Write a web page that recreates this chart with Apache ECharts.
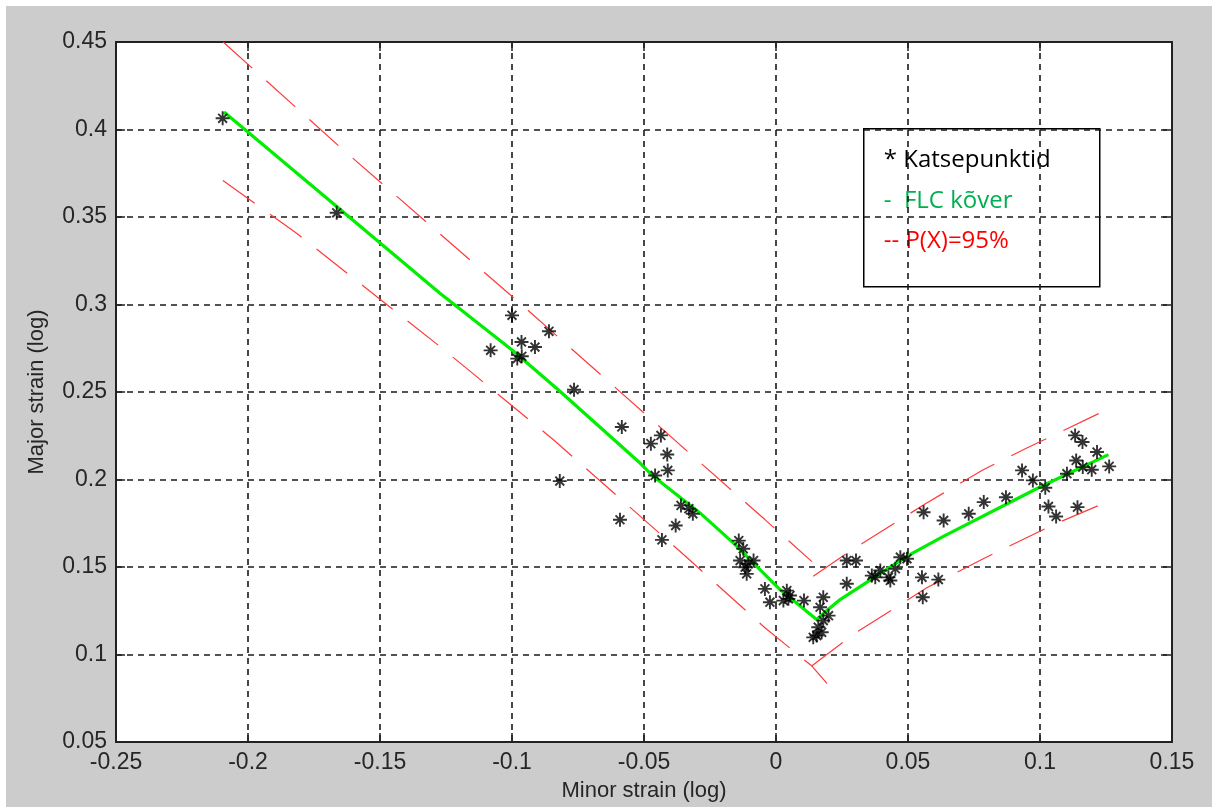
<!DOCTYPE html>
<html>
<head>
<meta charset="utf-8">
<script src="https://cdn.jsdelivr.net/npm/echarts/dist/echarts.min.js"></script>
<style>
html,body{margin:0;padding:0;background:#fff;}
#chart{width:1212px;height:807px;}
</style>
</head>
<body>
<div id="chart"></div>
<script>
// Tick labels
const xTicks = [-0.25, -0.2, -0.15, -0.1, -0.05, 0, 0.05, 0.1, 0.15];
const yTicks = [0.05, 0.1, 0.15, 0.2, 0.25, 0.3, 0.35, 0.4, 0.45];

// Test points (Katsepunktid)
const testPoints = [
  [-0.2096, 0.4064], [-0.1664, 0.3524], [-0.1081, 0.2738], [-0.1000, 0.2938],
  [-0.0964, 0.2786], [-0.0980, 0.2691], [-0.0963, 0.2704], [-0.0913, 0.2757],
  [-0.0860, 0.2847], [-0.0765, 0.2513], [-0.0819, 0.1991], [-0.0584, 0.2300],
  [-0.0591, 0.1770], [-0.0474, 0.2205], [-0.0436, 0.2252], [-0.0412, 0.2143],
  [-0.0410, 0.2052], [-0.0458, 0.2023], [-0.0432, 0.1655], [-0.0360, 0.1852],
  [-0.0330, 0.1833], [-0.0315, 0.1804], [-0.0380, 0.1737], [-0.0141, 0.1651],
  [-0.0124, 0.1604], [-0.0136, 0.1537], [-0.0105, 0.1518], [-0.0117, 0.1499],
  [-0.0111, 0.1461], [-0.0085, 0.1537], [-0.0042, 0.1375], [-0.0023, 0.1299],
  [0.0041, 0.1365], [0.0047, 0.1318], [0.0028, 0.1308], [0.0053, 0.1337],
  [0.0106, 0.1308], [0.0179, 0.1327], [0.0167, 0.1270], [0.0199, 0.1222],
  [0.0179, 0.1194], [0.0160, 0.1156], [0.0173, 0.1127], [0.0141, 0.1098],
  [0.0154, 0.1108],
  [0.0268, 0.1537], [0.0303, 0.1537], [0.0268, 0.1404], [0.0363, 0.1451],
  [0.0376, 0.1441], [0.0426, 0.1441], [0.0433, 0.1423], [0.0452, 0.1490],
  [0.0395, 0.1480], [0.0471, 0.1556], [0.0496, 0.1547], [0.0559, 0.1813],
  [0.0553, 0.1441], [0.0556, 0.1327], [0.0615, 0.1428], [0.0635, 0.1766],
  [0.0730, 0.1804], [0.0787, 0.1871], [0.0871, 0.1899], [0.0932, 0.2052],
  [0.0973, 0.1995], [0.1020, 0.1953], [0.1032, 0.1846], [0.1061, 0.1789],
  [0.1102, 0.2033], [0.1137, 0.2109], [0.1142, 0.1842], [0.1133, 0.2252],
  [0.1161, 0.2214], [0.1216, 0.2157], [0.1162, 0.2071], [0.1196, 0.2056],
  [0.1262, 0.2075]
];

// FLC curve (FLC kõver)
const flcCurve = [
  [-0.2091, 0.4100], [-0.1664, 0.3560], [-0.1273, 0.3064], [-0.1001, 0.2741],
  [-0.0825, 0.2513], [-0.0515, 0.2094], [-0.0465, 0.2018], [-0.0288, 0.1809],
  [-0.0162, 0.1638], [0.0015, 0.1371], [0.0154, 0.1200], [0.0192, 0.1250],
  [0.0243, 0.1314], [0.0495, 0.1561], [0.0634, 0.1675], [0.1000, 0.1957],
  [0.1259, 0.2142]
];

// 95% bands
const upperLeft = [
  [-0.2094, 0.4500], [-0.1651, 0.3899], [-0.0963, 0.2998], [-0.0364, 0.2199],
  [-0.0042, 0.1771], [0.0136, 0.1531]
];
const lowerLeft = [
  [-0.2095, 0.3708], [-0.1816, 0.3407], [-0.1273, 0.2760], [-0.0843, 0.2227],
  [-0.0364, 0.1590], [-0.0042, 0.1153], [0.0136, 0.0934], [0.0193, 0.0835]
];
const upperRight = [
  [0.0141, 0.1447], [0.0299, 0.1609], [0.0571, 0.1866], [0.0785, 0.2056],
  [0.0950, 0.2180], [0.1227, 0.2380]
];
const lowerRight = [
  [0.0135, 0.0934], [0.0293, 0.1115], [0.0571, 0.1381], [0.0785, 0.1547],
  [0.1051, 0.1742], [0.1221, 0.1851]
];

const legendLines = ['* Katsepunktid', '-  FLC kõver', '-- P(X)=95%'];

const fmt = v => String(+(+v).toFixed(2));
const axisColor = '#222';
const labelFont = {color: '#262626', fontSize: 23, fontFamily: 'Liberation Sans, Arial, sans-serif'};

const chart = echarts.init(document.getElementById('chart'), null, {renderer: 'canvas'});

function bandSeries(data) {
  return {
    type: 'line', data: data, showSymbol: false, symbol: 'none', z: 3,
    lineStyle: {color: '#ff3a3a', width: 1.2, type: [39, 19]},
    silent: true
  };
}

const option = {
  animation: false,
  backgroundColor: '#cccccc',
  graphic: [
    {type: 'rect', left: 0, top: 0, shape: {width: 1212, height: 6}, style: {fill: '#fff'}, silent: true},
    {type: 'rect', left: 0, top: 0, shape: {width: 6, height: 807}, style: {fill: '#fff'}, silent: true},
    {type: 'group', left: 863, top: 128, z: 100, children: [
      {type: 'rect', shape: {x: 0, y: 0, width: 236, height: 158}, style: {fill: '#fff', stroke: '#000', lineWidth: 1.5}},
      {type: 'text', x: 20, y: 31, style: {text: legendLines[0], fill: '#000', font: '24px "Open Sans", sans-serif', textVerticalAlign: 'middle'}},
      {type: 'text', x: 20, y: 72, style: {text: legendLines[1], fill: '#00b050', font: '24px "Open Sans", sans-serif', textVerticalAlign: 'middle'}},
      {type: 'text', x: 20, y: 112, style: {text: legendLines[2], fill: '#ff0000', font: '24px "Open Sans", sans-serif', textVerticalAlign: 'middle'}}
    ]}
  ],
  grid: {left: 116, right: 40, top: 42, bottom: 64, show: true, backgroundColor: '#fff', borderWidth: 0, containLabel: false},
  xAxis: [
    {
      type: 'value', position: 'bottom', min: xTicks[0], max: xTicks[xTicks.length - 1], interval: 0.05,
      name: 'Minor strain (log)', nameLocation: 'middle', nameGap: 38,
      nameTextStyle: {color: '#262626', fontSize: 22, fontFamily: 'Liberation Sans, Arial, sans-serif'},
      axisLine: {show: true, onZero: false, lineStyle: {color: axisColor, width: 2}},
      axisTick: {show: true, inside: true, length: 9, lineStyle: {color: axisColor, width: 1.5}},
      axisLabel: Object.assign({margin: 9, formatter: fmt, showMinLabel: true, showMaxLabel: true}, labelFont),
      splitLine: {show: true, lineStyle: {color: '#1a1a1a', width: 1.6, type: [6, 5]}}
    },
    {
      type: 'value', position: 'top', min: xTicks[0], max: xTicks[xTicks.length - 1], interval: 0.05,
      axisLine: {show: true, onZero: false, lineStyle: {color: axisColor, width: 2}},
      axisTick: {show: true, inside: true, length: 9, lineStyle: {color: axisColor, width: 1.5}},
      axisLabel: {show: false}, splitLine: {show: false}
    }
  ],
  yAxis: [
    {
      type: 'value', position: 'left', min: yTicks[0], max: yTicks[yTicks.length - 1], interval: 0.05,
      name: 'Major strain (log)', nameLocation: 'middle', nameGap: 68, nameRotate: 90,
      nameTextStyle: {color: '#262626', fontSize: 22, fontFamily: 'Liberation Sans, Arial, sans-serif'},
      axisLine: {show: true, onZero: false, lineStyle: {color: axisColor, width: 2}},
      axisTick: {show: true, inside: true, length: 9, lineStyle: {color: axisColor, width: 1.5}},
      axisLabel: Object.assign({margin: 9, formatter: fmt, showMinLabel: true, showMaxLabel: true}, labelFont),
      splitLine: {show: true, lineStyle: {color: '#1a1a1a', width: 1.6, type: [6, 5]}}
    },
    {
      type: 'value', position: 'right', min: yTicks[0], max: yTicks[yTicks.length - 1], interval: 0.05,
      axisLine: {show: true, onZero: false, lineStyle: {color: axisColor, width: 2}},
      axisTick: {show: true, inside: true, length: 9, lineStyle: {color: axisColor, width: 1.5}},
      axisLabel: {show: false}, splitLine: {show: false}
    }
  ],
  series: [
    bandSeries(upperLeft),
    bandSeries(lowerLeft),
    bandSeries(upperRight),
    bandSeries(lowerRight),
    {
      type: 'line', data: flcCurve, showSymbol: false, symbol: 'none', z: 4, silent: true,
      lineStyle: {color: '#00ee00', width: 3.2}
    },
    {
      type: 'scatter', data: testPoints, z: 5, silent: true,
      symbol: 'path://M6,0L6,12M0,6L12,6M2.2,2.2L9.8,9.8M2.2,9.8L9.8,2.2',
      symbolSize: 14,
      itemStyle: {color: '#000', borderColor: '#000', borderWidth: 1.9}
    }
  ]
};
chart.setOption(option);
</script>
</body>
</html>
